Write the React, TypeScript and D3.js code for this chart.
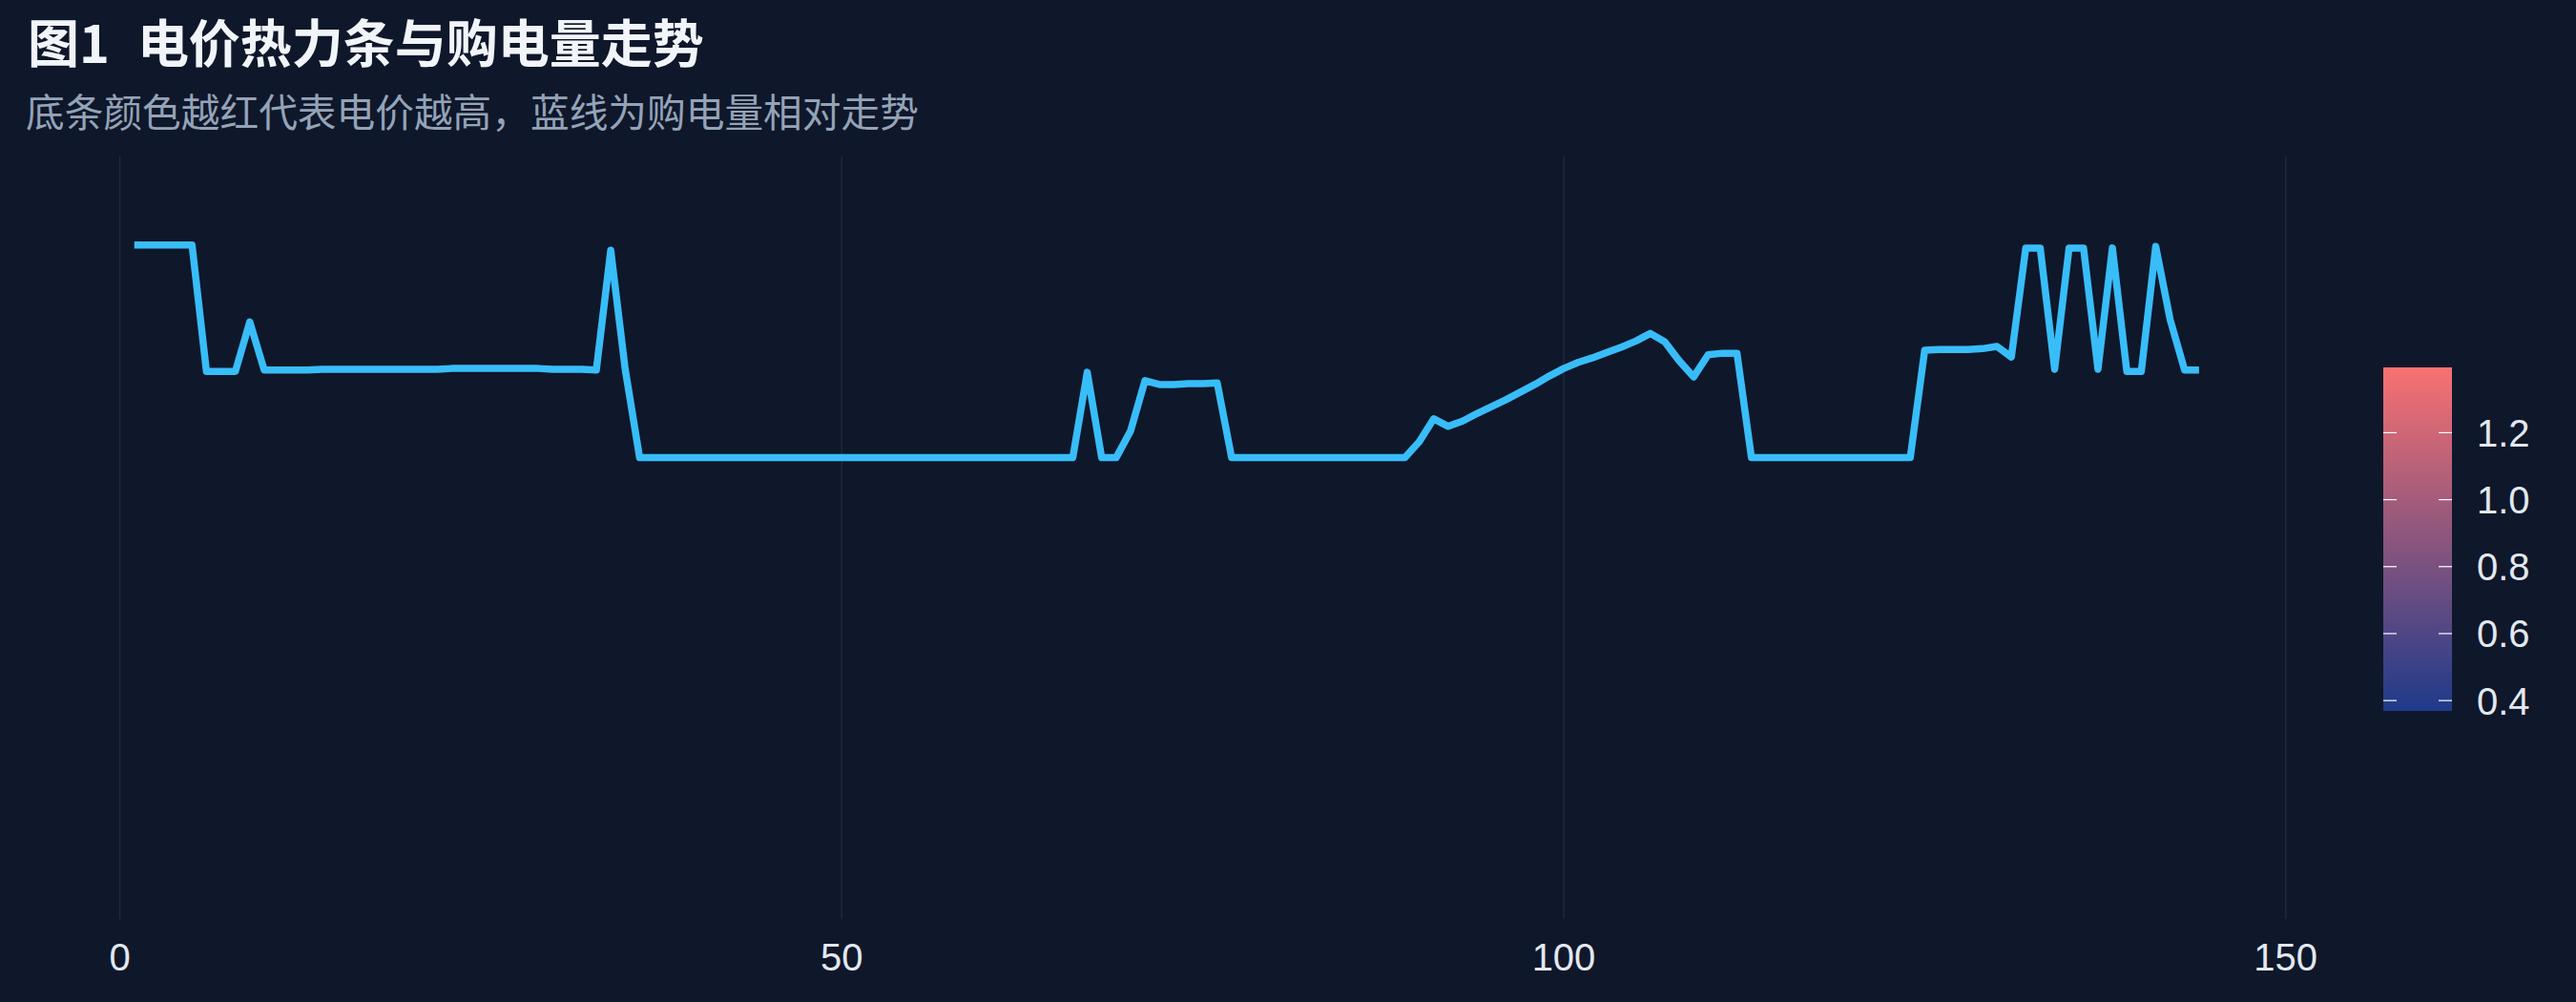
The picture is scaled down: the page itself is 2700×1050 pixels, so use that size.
import React from "react";
import * as d3 from "d3";

// ---- data ----
const TITLE_PREFIX = "图1";
const TITLE_MAIN = "电价热力条与购电量走势";
const SUBTITLE = "底条颜色越红代表电价越高，蓝线为购电量相对走势";

// relative purchase volume per period (index 1..144)
const purchase: number[] = [
  88.4, 88.4, 88.4, 88.4, 88.4, 71.8, 71.8, 71.8, 78.3, 72.0,
  72.0, 72.0, 72.0, 72.1, 72.1, 72.1, 72.1, 72.1, 72.1, 72.1,
  72.1, 72.1, 72.2, 72.2, 72.2, 72.2, 72.2, 72.2, 72.2, 72.1,
  72.1, 72.1, 72.0, 87.7, 72.1, 60.5, 60.5, 60.5, 60.5, 60.5,
  60.5, 60.5, 60.5, 60.5, 60.5, 60.5, 60.5, 60.5, 60.5, 60.5,
  60.5, 60.5, 60.5, 60.5, 60.5, 60.5, 60.5, 60.5, 60.5, 60.5,
  60.5, 60.5, 60.5, 60.5, 60.5, 60.5, 71.7, 60.5, 60.5, 64.0,
  70.6, 70.1, 70.1, 70.2, 70.2, 70.3, 60.5, 60.5, 60.5, 60.5,
  60.5, 60.5, 60.5, 60.5, 60.5, 60.5, 60.5, 60.5, 60.5, 62.6,
  65.6, 64.6, 65.3, 66.3, 67.2, 68.1, 69.1, 70.1, 71.2, 72.2,
  73.0, 73.6, 74.3, 75.0, 75.8, 76.8, 75.7, 73.2, 71.1, 74.0,
  74.2, 74.2, 60.5, 60.5, 60.5, 60.5, 60.5, 60.5, 60.5, 60.5,
  60.5, 60.5, 60.5, 60.5, 74.6, 74.7, 74.7, 74.7, 74.8, 75.1,
  73.7, 88.0, 88.0, 72.1, 88.0, 88.0, 72.1, 88.0, 71.8, 71.8,
  88.2, 78.6, 72.0, 72.0,
];

const xTicks = [0, 50, 100, 150];
const priceRange = [0.369, 1.395];
const priceTicks = [0.4, 0.6, 0.8, 1.0, 1.2];
const priceColors = ["#1e3a8a", "#f87171"];

// ---- layout ----
const W = 2700;
const H = 1050;
const BG = "#0f172a";
const panel = { top: 164, bottom: 963 };
const legend = { x: 2498, w: 72, top: 385, bottom: 745 };

export default function App() {
  const x = d3.scaleLinear().domain([0, 150]).range([125.6, 2395.7]);
  const y = d3.scaleLinear().domain([0, 100]).range([panel.bottom, panel.top]);
  const line = d3
    .line<number>()
    .x((_, i) => x(i + 1))
    .y((d) => y(d));
  const lp = d3.scaleLinear().domain(priceRange).range([legend.bottom, legend.top]);
  const fmt = d3.format(".1f");

  return (
    <svg
      width={W}
      height={H}
      style={{ position: "absolute", left: 0, top: 0, display: "block" }}
    >
      <defs>
        <linearGradient id="priceGrad" x1="0" y1="1" x2="0" y2="0">
          <stop offset="0%" stopColor={priceColors[0]} />
          <stop offset="100%" stopColor={priceColors[1]} />
        </linearGradient>
      </defs>
      <rect width={W} height={H} fill={BG} />

      <text
        x={29}
        y={66}
        fill="#f1f5f9"
        fontFamily="'Noto Sans CJK SC', sans-serif"
        fontWeight="bold"
        fontSize={54}
      >
        <tspan>{TITLE_PREFIX}</tspan>
        <tspan dx={29}>{TITLE_MAIN}</tspan>
      </text>
      <text
        x={27}
        y={133}
        fill="#94a3b8"
        fontFamily="'Noto Sans CJK SC', sans-serif"
        fontSize={40.7}
      >
        {SUBTITLE}
      </text>

      {xTicks.map((t) => (
        <g key={t}>
          <line
            x1={x(t)}
            x2={x(t)}
            y1={panel.top}
            y2={panel.bottom}
            stroke="#1e293b"
            strokeWidth={1.6}
          />
          <text
            x={x(t)}
            y={1017}
            textAnchor="middle"
            fill="#e2e8f0"
            fontFamily="'Liberation Sans', Arial, sans-serif"
            fontSize={40}
          >
            {t}
          </text>
        </g>
      ))}

      <path
        d={line(purchase) || ""}
        fill="none"
        stroke="#38bdf8"
        strokeWidth={7.5}
        strokeLinejoin="round"
        strokeLinecap="butt"
      />

      <rect
        x={legend.x}
        y={legend.top}
        width={legend.w}
        height={legend.bottom - legend.top}
        fill="url(#priceGrad)"
      />
      {priceTicks.map((t) => (
        <g key={t}>
          <line x1={legend.x} x2={legend.x + 14} y1={lp(t)} y2={lp(t)} stroke="#ffffff" strokeWidth={1.2} />
          <line
            x1={legend.x + legend.w - 14}
            x2={legend.x + legend.w}
            y1={lp(t)}
            y2={lp(t)}
            stroke="#ffffff"
            strokeWidth={1.2}
          />
          <text
            x={2596}
            y={lp(t) + 14.5}
            fill="#e2e8f0"
            fontFamily="'Liberation Sans', Arial, sans-serif"
            fontSize={40}
          >
            {fmt(t)}
          </text>
        </g>
      ))}
    </svg>
  );
}
